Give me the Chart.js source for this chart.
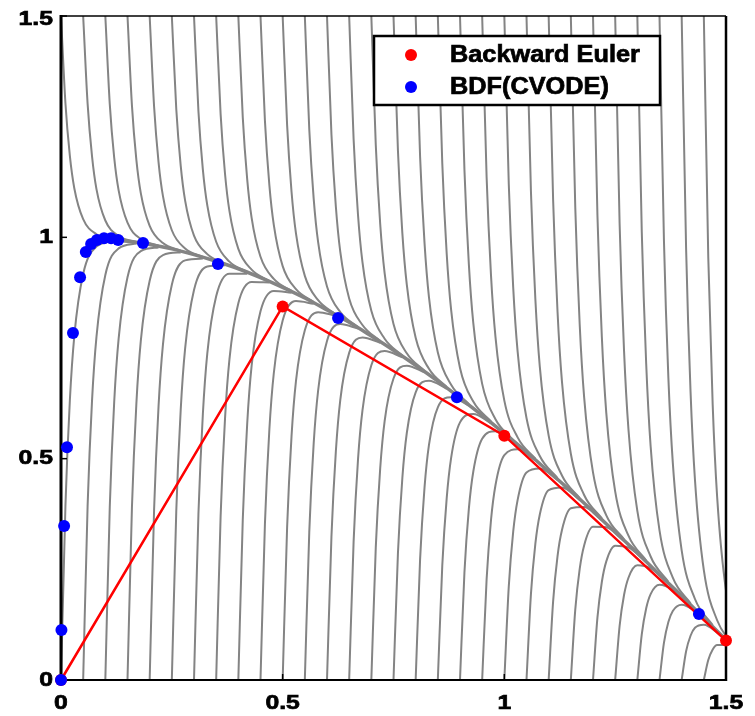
<!DOCTYPE html>
<html>
<head>
<meta charset="utf-8">
<title>Backward Euler vs BDF(CVODE)</title>
<script src="https://cdn.jsdelivr.net/npm/chart.js@4.4.1/dist/chart.umd.min.js"></script>
<style>
  html, body { margin: 0; padding: 0; background: #fff; }
  canvas { display: block; }
</style>
</head>
<body>
<canvas id="chart" width="755" height="716"></canvas>
<script>
// gray solution curves, each sampled at these time offsets after its start time
const offsets = [0, 0.01, 0.02, 0.03, 0.05, 0.08, 0.12];
const startTimes = [0, 0.05, 0.1, 0.15, 0.2, 0.25, 0.3, 0.35, 0.4, 0.45,
  0.5, 0.55, 0.6, 0.65, 0.7, 0.75, 0.8, 0.85, 0.9, 0.95,
  1, 1.05, 1.1, 1.15, 1.2, 1.25, 1.3, 1.35, 1.4, 1.45];

// curves entering from the top edge (y = 1.5)
const curvesFromTop = [
  [1.5, 1.303, 1.184, 1.111, 1.041, 1.007, 0.996],
  [1.5, 1.302, 1.183, 1.109, 1.038, 1.003, 0.990],
  [1.5, 1.301, 1.180, 1.106, 1.033, 0.996, 0.981],
  [1.5, 1.298, 1.175, 1.100, 1.026, 0.987, 0.970],
  [1.5, 1.295, 1.170, 1.093, 1.016, 0.975, 0.956],
  [1.5, 1.290, 1.162, 1.083, 1.004, 0.962, 0.940],
  [1.5, 1.285, 1.153, 1.072, 0.990, 0.945, 0.922],
  [1.5, 1.279, 1.143, 1.059, 0.974, 0.927, 0.901],
  [1.5, 1.271, 1.131, 1.044, 0.956, 0.906, 0.879],
  [1.5, 1.263, 1.118, 1.028, 0.935, 0.883, 0.854],
  [1.5, 1.254, 1.103, 1.009, 0.913, 0.858, 0.826],
  [1.5, 1.244, 1.087, 0.989, 0.889, 0.831, 0.797],
  [1.5, 1.233, 1.069, 0.967, 0.862, 0.802, 0.766],
  [1.5, 1.222, 1.050, 0.944, 0.834, 0.771, 0.733],
  [1.5, 1.209, 1.030, 0.919, 0.804, 0.738, 0.698],
  [1.5, 1.196, 1.009, 0.893, 0.773, 0.703, 0.662],
  [1.5, 1.182, 0.987, 0.865, 0.740, 0.667, 0.623],
  [1.5, 1.168, 0.963, 0.836, 0.705, 0.629, 0.584],
  [1.5, 1.153, 0.939, 0.806, 0.669, 0.589, 0.542],
  [1.5, 1.137, 0.913, 0.775, 0.631, 0.548, 0.500],
  [1.5, 1.121, 0.887, 0.742, 0.592, 0.506, 0.456],
  [1.5, 1.104, 0.860, 0.708, 0.552, 0.462, 0.411],
  [1.5, 1.086, 0.832, 0.674, 0.511, 0.418, 0.365],
  [1.5, 1.068, 0.803, 0.639, 0.469, 0.372, 0.318],
  [1.5, 1.050, 0.774, 0.603, 0.426, 0.326, 0.270],
  [1.5, 1.032, 0.744, 0.566, 0.382, 0.279, 0.222],
  [1.5, 1.013, 0.714, 0.528, 0.338, 0.231, 0.173],
  [1.5, 0.994, 0.683, 0.491, 0.293, 0.183, 0.124],
  [1.5, 0.975, 0.652, 0.452, 0.248, 0.135, 0.074],
  [1.5, 0.955, 0.621, 0.414, 0.202, 0.086, 0.024]
];

// curves starting on the bottom edge (y = 0)
const curvesFromBottom = [
  [0, 0.393, 0.632, 0.777, 0.917, 0.979, 0.992],
  [0, 0.393, 0.631, 0.775, 0.915, 0.975, 0.986],
  [0, 0.391, 0.628, 0.771, 0.910, 0.969, 0.977],
  [0, 0.389, 0.624, 0.766, 0.902, 0.960, 0.966],
  [0, 0.385, 0.618, 0.758, 0.893, 0.948, 0.952],
  [0, 0.381, 0.610, 0.749, 0.881, 0.934, 0.937],
  [0, 0.375, 0.601, 0.738, 0.867, 0.918, 0.918],
  [0, 0.369, 0.591, 0.725, 0.851, 0.899, 0.898],
  [0, 0.362, 0.579, 0.710, 0.833, 0.879, 0.875],
  [0, 0.353, 0.566, 0.693, 0.812, 0.856, 0.850],
  [0, 0.344, 0.551, 0.675, 0.790, 0.831, 0.823],
  [0, 0.334, 0.535, 0.654, 0.766, 0.804, 0.794],
  [0, 0.323, 0.517, 0.633, 0.739, 0.774, 0.762],
  [0, 0.312, 0.499, 0.609, 0.711, 0.743, 0.729],
  [0, 0.299, 0.478, 0.585, 0.681, 0.710, 0.695],
  [0, 0.286, 0.457, 0.558, 0.650, 0.676, 0.658],
  [0, 0.273, 0.435, 0.531, 0.616, 0.639, 0.620],
  [0, 0.258, 0.411, 0.502, 0.582, 0.601, 0.580],
  [0, 0.243, 0.387, 0.471, 0.545, 0.562, 0.538],
  [0, 0.227, 0.362, 0.440, 0.508, 0.521, 0.496],
  [0, 0.211, 0.335, 0.407, 0.469, 0.478, 0.452],
  [0, 0.194, 0.308, 0.374, 0.429, 0.435, 0.407],
  [0, 0.177, 0.280, 0.339, 0.388, 0.391, 0.361],
  [0, 0.159, 0.251, 0.304, 0.346, 0.345, 0.314],
  [0, 0.141, 0.222, 0.268, 0.303, 0.299, 0.266],
  [0, 0.122, 0.192, 0.231, 0.259, 0.252, 0.218],
  [0, 0.103, 0.162, 0.194, 0.215, 0.204, 0.169],
  [0, 0.084, 0.131, 0.156, 0.170, 0.156, 0.120],
  [0, 0.065, 0.100, 0.118, 0.125, 0.107, 0.070],
  [0, 0.045, 0.069, 0.079, 0.079, 0.058, 0.021]
];

// the thick band all curves run into
const bandT = [0.1, 0.15, 0.2, 0.25, 0.3, 0.35, 0.4, 0.45, 0.5, 0.55, 0.6, 0.65, 0.7, 0.75,
  0.8, 0.85, 0.9, 0.95, 1, 1.05, 1.1, 1.15, 1.2, 1.25, 1.3, 1.35, 1.4, 1.45, 1.5];
const bandY = [0.997, 0.991, 0.984, 0.974, 0.961, 0.946, 0.929, 0.909, 0.887, 0.863, 0.836,
  0.808, 0.777, 0.745, 0.711, 0.675, 0.637, 0.598, 0.557, 0.515, 0.471, 0.427, 0.381,
  0.334, 0.287, 0.238, 0.190, 0.140, 0.091];

const eulerT = [0, 0.5, 1, 1.5];
const eulerY = [0, 0.844, 0.552, 0.089];

const bdfT = [0, 0.001, 0.007, 0.0135, 0.027, 0.043, 0.056, 0.068, 0.081, 0.097, 0.113, 0.129,
  0.185, 0.354, 0.625, 0.893, 1.439];
const bdfY = [0, 0.113, 0.348, 0.526, 0.784, 0.910, 0.967, 0.985, 0.994, 0.998, 0.998, 0.994,
  0.987, 0.940, 0.818, 0.639, 0.149];

const xTicks = [0, 0.5, 1, 1.5];
const yTicks = [0, 0.5, 1, 1.5];
const legendLabels = ["Backward Euler", "BDF(CVODE)"];

const GRAY = "#848484";
const RED = "#ff0000";
const BLUE = "#0000ff";
const FONT = "Liberation Sans, Arial, sans-serif";

const datasets = [];
startTimes.forEach((t0, k) => {
  [curvesFromTop[k], curvesFromBottom[k]].forEach((ys) => {
    datasets.push({
      data: ys.map((y, i) => ({ x: t0 + offsets[i], y: y })),
      borderColor: GRAY,
      borderWidth: 2,
      pointRadius: 0,
      cubicInterpolationMode: "monotone",
      clip: 0,
      order: 2,
    });
  });
});

datasets.push({
  data: bandT.map((t, i) => ({ x: t, y: bandY[i] })),
  borderColor: GRAY,
  borderWidth: 3.5,
  pointRadius: 0,
  cubicInterpolationMode: "monotone",
  clip: 0,
  order: 2,
});

const eulerIndex = datasets.length;
datasets.push({
  label: legendLabels[0],
  data: eulerT.map((t, i) => ({ x: t, y: eulerY[i] })),
  borderColor: RED,
  backgroundColor: RED,
  borderWidth: 2.5,
  pointRadius: 6,
  pointBorderWidth: 0,
  pointBackgroundColor: RED,
  clip: false,
  order: 1,
});

datasets.push({
  label: legendLabels[1],
  data: bdfT.map((t, i) => ({ x: t, y: bdfY[i] })),
  showLine: false,
  borderColor: BLUE,
  backgroundColor: BLUE,
  pointRadius: 6,
  pointBorderWidth: 0,
  pointBackgroundColor: BLUE,
  clip: false,
  order: 0,
});

// stretched heavy text, the original labels are wider and darker than plain Arial bold
function wideText(ctx, text, x, y, align, size, stretch) {
  ctx.save();
  ctx.font = "bold " + size + "px " + FONT;
  ctx.textAlign = align;
  ctx.textBaseline = "middle";
  ctx.fillStyle = "#000";
  ctx.strokeStyle = "#000";
  ctx.lineWidth = 0.7;
  ctx.translate(x, y);
  ctx.scale(stretch, 1);
  ctx.fillText(text, 0, 0);
  ctx.strokeText(text, 0, 0);
  ctx.restore();
}

const framePlugin = {
  id: "frame",
  beforeDatasetDraw(chart, args) {
    if (args.index !== eulerIndex) return;
    const ctx = chart.ctx;
    const a = chart.chartArea;
    ctx.save();
    ctx.strokeStyle = "#000";
    ctx.lineWidth = 1.5;
    ctx.beginPath();
    ctx.moveTo(a.left, a.top);
    ctx.lineTo(a.right, a.top);
    ctx.stroke();
    ctx.lineWidth = 2;
    ctx.beginPath();
    ctx.moveTo(a.left, a.bottom);
    ctx.lineTo(a.right, a.bottom);
    ctx.stroke();
    ctx.lineWidth = 2.5;
    ctx.beginPath();
    ctx.moveTo(a.right, a.top);
    ctx.lineTo(a.right, a.bottom + 1);
    ctx.stroke();
    ctx.lineWidth = 3;
    ctx.beginPath();
    ctx.moveTo(a.left, a.top - 1);
    ctx.lineTo(a.left, a.bottom + 1);
    ctx.stroke();

    // short inward ticks
    ctx.lineWidth = 1.5;
    const xs = chart.scales.x;
    const ys = chart.scales.y;
    yTicks.forEach((v) => {
      const py = ys.getPixelForValue(v);
      ctx.beginPath();
      ctx.moveTo(a.left, py);
      ctx.lineTo(a.left + 6, py);
      ctx.stroke();
    });
    xTicks.forEach((v) => {
      const px = xs.getPixelForValue(v);
      ctx.beginPath();
      ctx.moveTo(px, a.bottom);
      ctx.lineTo(px, a.bottom - 6);
      ctx.stroke();
    });
    ctx.restore();
  },
  afterDraw(chart) {
    const ctx = chart.ctx;
    const a = chart.chartArea;
    const xs = chart.scales.x;
    const ys = chart.scales.y;

    yTicks.forEach((v) => {
      let py = ys.getPixelForValue(v);
      if (v === 1.5) py += 3;
      wideText(ctx, String(v), a.left - 8, py, "right", 21, 1.18);
    });
    xTicks.forEach((v) => {
      wideText(ctx, String(v), xs.getPixelForValue(v), a.bottom + 23, "center", 21, 1.18);
    });

    // legend box
    const lx = a.left + 313;
    const ly = a.top + 20;
    const lw = 286;
    const lh = 69;
    ctx.save();
    ctx.fillStyle = "#fff";
    ctx.fillRect(lx, ly, lw, lh);
    ctx.strokeStyle = "#000";
    ctx.lineWidth = 2.5;
    ctx.strokeRect(lx, ly, lw, lh);
    [RED, BLUE].forEach((c, i) => {
      ctx.fillStyle = c;
      ctx.beginPath();
      ctx.arc(lx + 37, ly + 19 + i * 32, 6, 0, Math.PI * 2);
      ctx.fill();
    });
    ctx.restore();
    legendLabels.forEach((label, i) => {
      wideText(ctx, label, lx + 76, ly + 20 + i * 32, "left", 23, 1.1);
    });
  },
};

new Chart(document.getElementById("chart"), {
  type: "line",
  data: { datasets: datasets },
  options: {
    responsive: false,
    animation: false,
    layout: { padding: { left: 0, top: 16, right: 29, bottom: 0 } },
    plugins: { legend: { display: false }, tooltip: { enabled: false } },
    scales: {
      x: {
        type: "linear",
        min: 0,
        max: 1.5,
        grid: { display: false },
        border: { display: false },
        ticks: { display: false },
        afterFit(scale) { scale.height = 36; },
      },
      y: {
        type: "linear",
        min: 0,
        max: 1.5,
        grid: { display: false },
        border: { display: false },
        ticks: { display: false },
        afterFit(scale) { scale.width = 61; },
      },
    },
  },
  plugins: [framePlugin],
});
</script>
</body>
</html>
